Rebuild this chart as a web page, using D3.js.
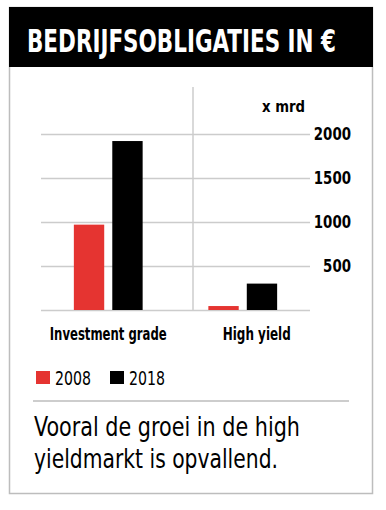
<!DOCTYPE html>
<html>
<head>
<meta charset="utf-8">
<script src="https://cdn.jsdelivr.net/npm/d3@7"></script>
<style>
  body { margin: 0; background: #fff; }
  svg { display: block; }
  text { font-family: "Liberation Sans Narrow", "DejaVu Sans Condensed", "Roboto", sans-serif; }
</style>
</head>
<body>
<svg id="chart" width="386" height="510"></svg>
<script>
// data
var categories = ["Investment grade", "High yield"];
var years = ["2008", "2018"];
var values2008 = [970, 45];
var values2018 = [1920, 300];
var tickValues = [500, 1000, 1500, 2000];

var colors = { "2008": "#e53431", "2018": "#000000" };

var svg = d3.select("#chart");

// squeeze a text to a given width (fonts here are wider than the original)
function squeeze(sel, w) {
  sel.attr("textLength", w).attr("lengthAdjust", "spacingAndGlyphs");
}

// outer frame
svg.append("rect")
  .attr("x", 9.5).attr("y", 7.5)
  .attr("width", 363).attr("height", 486)
  .attr("fill", "none")
  .attr("stroke", "#bdbdbd")
  .attr("stroke-width", 1.5);

// header
svg.append("rect")
  .attr("x", 9).attr("y", 7)
  .attr("width", 364).attr("height", 60)
  .attr("fill", "#000");

svg.append("text")
  .attr("x", 27).attr("y", 52)
  .attr("fill", "#fff")
  .attr("font-size", "32px")
  .attr("font-weight", "bold")
  .text("BEDRIJFSOBLIGATIES IN €")
  .call(squeeze, 309);

// scales
var x0 = d3.scaleBand()
  .domain(categories)
  .range([41, 310]);

var x1 = d3.scaleBand()
  .domain(years)
  .range([0, x0.bandwidth()])
  .paddingInner(0.21)
  .paddingOuter(0.855);

var y = d3.scaleLinear()
  .domain([0, 2000])
  .range([310, 134]);

// gridlines
var grid = svg.append("g")
  .attr("transform", "translate(310,0)")
  .call(d3.axisLeft(y).tickValues([0].concat(tickValues)).tickSize(310 - 41).tickFormat(""));
grid.select(".domain").remove();
grid.selectAll("line")
  .attr("stroke", "#cccccc")
  .attr("stroke-width", 1.5);

// divider between groups
svg.append("line")
  .attr("x1", 193).attr("x2", 193)
  .attr("y1", 87).attr("y2", y(0))
  .attr("stroke", "#cccccc")
  .attr("stroke-width", 1.5);

// tick labels
var axis = svg.append("g")
  .attr("transform", "translate(351,0)")
  .call(d3.axisLeft(y).tickValues(tickValues).tickSize(0).tickPadding(0).tickFormat(d3.format("d")));
axis.select(".domain").remove();
axis.selectAll("text")
  .attr("font-family", "'Liberation Sans Narrow', 'DejaVu Sans Condensed', sans-serif")
  .attr("font-size", "17px")
  .attr("font-weight", "bold")
  .attr("fill", "#000")
  .attr("dy", "0.35em")
  .each(function (d) {
    d3.select(this).call(squeeze, String(d).length * 9.3);
  });

svg.append("text")
  .attr("x", 305).attr("y", 112)
  .attr("text-anchor", "end")
  .attr("font-size", "16px")
  .attr("font-weight", "bold")
  .text("x mrd")
  .call(squeeze, 43);

// bars
var rows = categories.map(function (c, i) {
  return { cat: c, vals: [
    { year: "2008", value: values2008[i] },
    { year: "2018", value: values2018[i] }
  ] };
});

var groups = svg.selectAll("g.group")
  .data(rows)
  .enter().append("g")
  .attr("class", "group")
  .attr("transform", function (d) { return "translate(" + x0(d.cat) + ",0)"; });

groups.selectAll("rect")
  .data(function (d) { return d.vals; })
  .enter().append("rect")
  .attr("x", function (d) { return x1(d.year); })
  .attr("width", x1.bandwidth())
  .attr("y", function (d) { return y(d.value); })
  .attr("height", function (d) { return y(0) - y(d.value); })
  .attr("fill", function (d) { return colors[d.year]; });

// category labels
var labelDx = [0, 14];
var labelW = [117, 68];
svg.selectAll("text.cat")
  .data(categories)
  .enter().append("text")
  .attr("class", "cat")
  .attr("x", function (d, i) { return x0(d) + x0.bandwidth() / 2 + labelDx[i]; })
  .attr("y", 340)
  .attr("text-anchor", "middle")
  .attr("font-size", "17px")
  .attr("font-weight", "bold")
  .attr("textLength", function (d, i) { return labelW[i]; })
  .attr("lengthAdjust", "spacingAndGlyphs")
  .text(function (d) { return d; });

// legend
var legend = svg.selectAll("g.legend")
  .data(years)
  .enter().append("g")
  .attr("class", "legend")
  .attr("transform", function (d, i) { return "translate(" + (36 + i * 74) + ",371)"; });

legend.append("rect")
  .attr("width", 14).attr("height", 13)
  .attr("fill", function (d) { return colors[d]; });

legend.append("text")
  .attr("x", 19).attr("y", 13.5)
  .attr("font-size", "20px")
  .text(function (d) { return d; })
  .call(squeeze, 36);

// separator
svg.append("line")
  .attr("x1", 33).attr("x2", 349)
  .attr("y1", 401).attr("y2", 401)
  .attr("stroke", "#bdbdbd")
  .attr("stroke-width", 1.5);

// footnote
svg.append("text")
  .attr("x", 34).attr("y", 436)
  .attr("font-size", "27px")
  .text("Vooral de groei in de high")
  .call(squeeze, 266);

svg.append("text")
  .attr("x", 34).attr("y", 468)
  .attr("font-size", "27px")
  .text("yieldmarkt is opvallend.")
  .call(squeeze, 244);
</script>
</body>
</html>
